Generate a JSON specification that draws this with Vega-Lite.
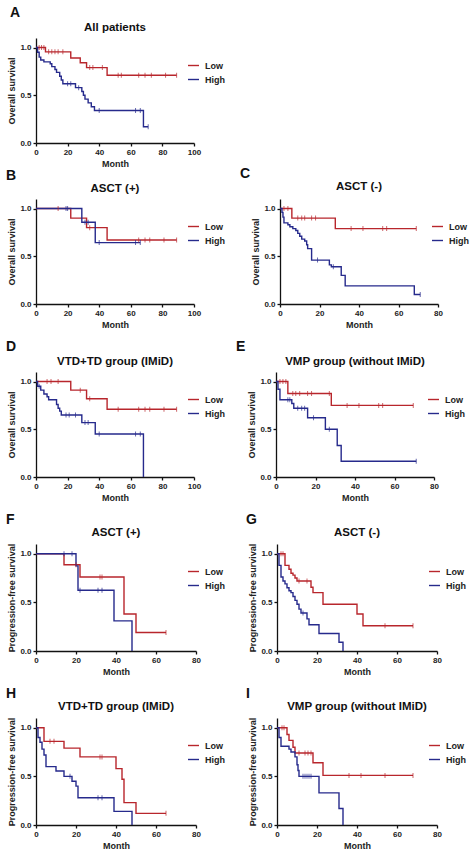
{
"$schema": "https://vega.github.io/schema/vega-lite/v6.json",
"background": "white",
"datasets": {
"curves": [
{"p":"A","g":"Low","t":0,"s":1},{"p":"A","g":"Low","t":6,"s":0.955},{"p":"A","g":"Low","t":22,"s":0.89},{"p":"A","g":"Low","t":28,"s":0.84},{"p":"A","g":"Low","t":32,"s":0.79},{"p":"A","g":"Low","t":45,"s":0.71},{"p":"A","g":"Low","t":89,"s":0.71},
{"p":"A","g":"High","t":0,"s":1},{"p":"A","g":"High","t":1,"s":0.95},{"p":"A","g":"High","t":2,"s":0.9},{"p":"A","g":"High","t":3,"s":0.87},{"p":"A","g":"High","t":5,"s":0.85},{"p":"A","g":"High","t":9,"s":0.83},{"p":"A","g":"High","t":10,"s":0.8},{"p":"A","g":"High","t":12,"s":0.77},{"p":"A","g":"High","t":13,"s":0.74},{"p":"A","g":"High","t":15,"s":0.7},{"p":"A","g":"High","t":16,"s":0.66},{"p":"A","g":"High","t":17,"s":0.62},{"p":"A","g":"High","t":25,"s":0.58},{"p":"A","g":"High","t":29,"s":0.54},{"p":"A","g":"High","t":30,"s":0.5},{"p":"A","g":"High","t":31,"s":0.46},{"p":"A","g":"High","t":33,"s":0.42},{"p":"A","g":"High","t":35,"s":0.38},{"p":"A","g":"High","t":37,"s":0.34},{"p":"A","g":"High","t":68,"s":0.17},{"p":"A","g":"High","t":71,"s":0.17},
{"p":"B","g":"Low","t":0,"s":1},{"p":"B","g":"Low","t":22,"s":0.9},{"p":"B","g":"Low","t":32,"s":0.8},{"p":"B","g":"Low","t":45,"s":0.67},{"p":"B","g":"Low","t":89,"s":0.67},
{"p":"B","g":"High","t":0,"s":1},{"p":"B","g":"High","t":29,"s":0.857},{"p":"B","g":"High","t":37.5,"s":0.643},{"p":"B","g":"High","t":66,"s":0.643},
{"p":"C","g":"Low","t":0,"s":1},{"p":"C","g":"Low","t":6,"s":0.9},{"p":"C","g":"Low","t":28,"s":0.79},{"p":"C","g":"Low","t":69,"s":0.79},
{"p":"C","g":"High","t":0,"s":1},{"p":"C","g":"High","t":1,"s":0.96},{"p":"C","g":"High","t":1.5,"s":0.91},{"p":"C","g":"High","t":2,"s":0.85},{"p":"C","g":"High","t":4,"s":0.83},{"p":"C","g":"High","t":5,"s":0.81},{"p":"C","g":"High","t":6.5,"s":0.79},{"p":"C","g":"High","t":8,"s":0.77},{"p":"C","g":"High","t":9,"s":0.74},{"p":"C","g":"High","t":10,"s":0.71},{"p":"C","g":"High","t":11,"s":0.68},{"p":"C","g":"High","t":12.5,"s":0.66},{"p":"C","g":"High","t":13.5,"s":0.62},{"p":"C","g":"High","t":14,"s":0.58},{"p":"C","g":"High","t":16,"s":0.46},{"p":"C","g":"High","t":25,"s":0.41},{"p":"C","g":"High","t":26,"s":0.39},{"p":"C","g":"High","t":31,"s":0.3},{"p":"C","g":"High","t":33,"s":0.19},{"p":"C","g":"High","t":68,"s":0.1},{"p":"C","g":"High","t":71,"s":0.1},
{"p":"D","g":"Low","t":0,"s":1},{"p":"D","g":"Low","t":22,"s":0.91},{"p":"D","g":"Low","t":32,"s":0.82},{"p":"D","g":"Low","t":45,"s":0.71},{"p":"D","g":"Low","t":89,"s":0.71},
{"p":"D","g":"High","t":0,"s":1},{"p":"D","g":"High","t":1,"s":0.95},{"p":"D","g":"High","t":3,"s":0.91},{"p":"D","g":"High","t":5,"s":0.87},{"p":"D","g":"High","t":7,"s":0.84},{"p":"D","g":"High","t":8,"s":0.81},{"p":"D","g":"High","t":13,"s":0.76},{"p":"D","g":"High","t":14,"s":0.72},{"p":"D","g":"High","t":15,"s":0.69},{"p":"D","g":"High","t":16,"s":0.65},{"p":"D","g":"High","t":29,"s":0.57},{"p":"D","g":"High","t":37.5,"s":0.45},{"p":"D","g":"High","t":68,"s":0},
{"p":"E","g":"Low","t":0,"s":1},{"p":"E","g":"Low","t":6,"s":0.875},{"p":"E","g":"Low","t":28,"s":0.75},{"p":"E","g":"Low","t":69.5,"s":0.75},
{"p":"E","g":"High","t":0,"s":1},{"p":"E","g":"High","t":1,"s":0.92},{"p":"E","g":"High","t":2,"s":0.81},{"p":"E","g":"High","t":8,"s":0.77},{"p":"E","g":"High","t":9,"s":0.72},{"p":"E","g":"High","t":16,"s":0.62},{"p":"E","g":"High","t":25,"s":0.5},{"p":"E","g":"High","t":31,"s":0.33},{"p":"E","g":"High","t":33,"s":0.165},{"p":"E","g":"High","t":71,"s":0.165},
{"p":"F","g":"Low","t":0,"s":1},{"p":"F","g":"Low","t":14,"s":0.886},{"p":"F","g":"Low","t":22,"s":0.76},{"p":"F","g":"Low","t":44,"s":0.38},{"p":"F","g":"Low","t":50,"s":0.19},{"p":"F","g":"Low","t":65,"s":0.19},
{"p":"F","g":"High","t":0,"s":1},{"p":"F","g":"High","t":20,"s":0.875},{"p":"F","g":"High","t":21,"s":0.625},{"p":"F","g":"High","t":39,"s":0.31},{"p":"F","g":"High","t":48,"s":0},
{"p":"G","g":"Low","t":0,"s":1},{"p":"G","g":"Low","t":4,"s":0.88},{"p":"G","g":"Low","t":6,"s":0.84},{"p":"G","g":"Low","t":7,"s":0.8},{"p":"G","g":"Low","t":8,"s":0.78},{"p":"G","g":"Low","t":9,"s":0.75},{"p":"G","g":"Low","t":10,"s":0.72},{"p":"G","g":"Low","t":17,"s":0.655},{"p":"G","g":"Low","t":18,"s":0.6},{"p":"G","g":"Low","t":23,"s":0.48},{"p":"G","g":"Low","t":40,"s":0.38},{"p":"G","g":"Low","t":43,"s":0.26},{"p":"G","g":"Low","t":68,"s":0.26},
{"p":"G","g":"High","t":0,"s":1},{"p":"G","g":"High","t":1,"s":0.88},{"p":"G","g":"High","t":2,"s":0.76},{"p":"G","g":"High","t":3,"s":0.72},{"p":"G","g":"High","t":4,"s":0.69},{"p":"G","g":"High","t":5,"s":0.65},{"p":"G","g":"High","t":6,"s":0.62},{"p":"G","g":"High","t":7,"s":0.6},{"p":"G","g":"High","t":8,"s":0.56},{"p":"G","g":"High","t":9,"s":0.52},{"p":"G","g":"High","t":10,"s":0.48},{"p":"G","g":"High","t":11,"s":0.43},{"p":"G","g":"High","t":12,"s":0.39},{"p":"G","g":"High","t":15,"s":0.33},{"p":"G","g":"High","t":16,"s":0.27},{"p":"G","g":"High","t":21,"s":0.18},{"p":"G","g":"High","t":31,"s":0.09},{"p":"G","g":"High","t":33,"s":0},
{"p":"H","g":"Low","t":0,"s":1},{"p":"H","g":"Low","t":4,"s":0.86},{"p":"H","g":"Low","t":14,"s":0.79},{"p":"H","g":"Low","t":22,"s":0.7},{"p":"H","g":"Low","t":40,"s":0.58},{"p":"H","g":"Low","t":43,"s":0.47},{"p":"H","g":"Low","t":44,"s":0.23},{"p":"H","g":"Low","t":50,"s":0.12},{"p":"H","g":"Low","t":65,"s":0.12},
{"p":"H","g":"High","t":0,"s":1},{"p":"H","g":"High","t":1,"s":0.9},{"p":"H","g":"High","t":2,"s":0.85},{"p":"H","g":"High","t":3,"s":0.78},{"p":"H","g":"High","t":4,"s":0.72},{"p":"H","g":"High","t":5,"s":0.6},{"p":"H","g":"High","t":10,"s":0.555},{"p":"H","g":"High","t":14,"s":0.5},{"p":"H","g":"High","t":18,"s":0.45},{"p":"H","g":"High","t":20,"s":0.4},{"p":"H","g":"High","t":21,"s":0.28},{"p":"H","g":"High","t":39,"s":0.14},{"p":"H","g":"High","t":48,"s":0},
{"p":"I","g":"Low","t":0,"s":1},{"p":"I","g":"Low","t":5,"s":0.93},{"p":"I","g":"Low","t":6,"s":0.87},{"p":"I","g":"Low","t":8,"s":0.8},{"p":"I","g":"Low","t":9,"s":0.74},{"p":"I","g":"Low","t":18,"s":0.64},{"p":"I","g":"Low","t":23,"s":0.51},{"p":"I","g":"Low","t":68,"s":0.51},
{"p":"I","g":"High","t":0,"s":1},{"p":"I","g":"High","t":1,"s":0.9},{"p":"I","g":"High","t":2,"s":0.81},{"p":"I","g":"High","t":6,"s":0.78},{"p":"I","g":"High","t":7,"s":0.75},{"p":"I","g":"High","t":9,"s":0.7},{"p":"I","g":"High","t":10,"s":0.62},{"p":"I","g":"High","t":10.5,"s":0.56},{"p":"I","g":"High","t":11,"s":0.5},{"p":"I","g":"High","t":21,"s":0.33},{"p":"I","g":"High","t":31,"s":0.17},{"p":"I","g":"High","t":33,"s":0}
],
"censor": [
{"p":"A","g":"Low","t":2,"s":1},{"p":"A","g":"Low","t":3.5,"s":1},{"p":"A","g":"Low","t":5,"s":1},{"p":"A","g":"Low","t":8,"s":0.955},{"p":"A","g":"Low","t":10,"s":0.955},{"p":"A","g":"Low","t":12,"s":0.955},{"p":"A","g":"Low","t":14,"s":0.955},{"p":"A","g":"Low","t":17,"s":0.955},{"p":"A","g":"Low","t":34,"s":0.79},{"p":"A","g":"Low","t":36,"s":0.79},{"p":"A","g":"Low","t":42,"s":0.79},{"p":"A","g":"Low","t":52,"s":0.71},{"p":"A","g":"Low","t":54,"s":0.71},{"p":"A","g":"Low","t":65,"s":0.71},{"p":"A","g":"Low","t":69,"s":0.71},{"p":"A","g":"Low","t":73,"s":0.71},{"p":"A","g":"Low","t":82,"s":0.71},{"p":"A","g":"Low","t":89,"s":0.71},
{"p":"A","g":"High","t":20,"s":0.62},{"p":"A","g":"High","t":22,"s":0.62},{"p":"A","g":"High","t":27,"s":0.58},{"p":"A","g":"High","t":40,"s":0.34},{"p":"A","g":"High","t":63,"s":0.34},{"p":"A","g":"High","t":66,"s":0.34},{"p":"A","g":"High","t":71,"s":0.17},
{"p":"B","g":"Low","t":14,"s":1},{"p":"B","g":"Low","t":34,"s":0.8},{"p":"B","g":"Low","t":65,"s":0.67},{"p":"B","g":"Low","t":69,"s":0.67},{"p":"B","g":"Low","t":72,"s":0.67},{"p":"B","g":"Low","t":81,"s":0.67},{"p":"B","g":"Low","t":89,"s":0.67},
{"p":"B","g":"High","t":19,"s":1},{"p":"B","g":"High","t":20,"s":1},{"p":"B","g":"High","t":31,"s":0.857},{"p":"B","g":"High","t":33,"s":0.857},{"p":"B","g":"High","t":40,"s":0.643},{"p":"B","g":"High","t":63,"s":0.643},{"p":"B","g":"High","t":66,"s":0.643},
{"p":"C","g":"Low","t":2,"s":1},{"p":"C","g":"Low","t":4,"s":1},{"p":"C","g":"Low","t":9,"s":0.9},{"p":"C","g":"Low","t":11,"s":0.9},{"p":"C","g":"Low","t":12.5,"s":0.9},{"p":"C","g":"Low","t":16,"s":0.9},{"p":"C","g":"Low","t":18,"s":0.9},{"p":"C","g":"Low","t":36,"s":0.79},{"p":"C","g":"Low","t":42,"s":0.79},{"p":"C","g":"Low","t":52,"s":0.79},{"p":"C","g":"Low","t":54,"s":0.79},{"p":"C","g":"Low","t":69,"s":0.79},
{"p":"C","g":"High","t":19,"s":0.46},{"p":"C","g":"High","t":27,"s":0.39},{"p":"C","g":"High","t":71,"s":0.1},
{"p":"D","g":"Low","t":7,"s":1},{"p":"D","g":"Low","t":9.5,"s":1},{"p":"D","g":"Low","t":14,"s":1},{"p":"D","g":"Low","t":28,"s":0.91},{"p":"D","g":"Low","t":34,"s":0.82},{"p":"D","g":"Low","t":52,"s":0.71},{"p":"D","g":"Low","t":65,"s":0.71},{"p":"D","g":"Low","t":69,"s":0.71},{"p":"D","g":"Low","t":72,"s":0.71},{"p":"D","g":"Low","t":81,"s":0.71},{"p":"D","g":"Low","t":89,"s":0.71},
{"p":"D","g":"High","t":2,"s":0.95},{"p":"D","g":"High","t":19,"s":0.65},{"p":"D","g":"High","t":21,"s":0.65},{"p":"D","g":"High","t":25,"s":0.65},{"p":"D","g":"High","t":31,"s":0.57},{"p":"D","g":"High","t":33,"s":0.57},{"p":"D","g":"High","t":40,"s":0.45},{"p":"D","g":"High","t":63,"s":0.45},{"p":"D","g":"High","t":66,"s":0.45},
{"p":"E","g":"Low","t":2,"s":1},{"p":"E","g":"Low","t":3.5,"s":1},{"p":"E","g":"Low","t":5,"s":1},{"p":"E","g":"Low","t":8.5,"s":0.875},{"p":"E","g":"Low","t":10,"s":0.875},{"p":"E","g":"Low","t":12,"s":0.875},{"p":"E","g":"Low","t":16,"s":0.875},{"p":"E","g":"Low","t":18,"s":0.875},{"p":"E","g":"Low","t":27,"s":0.875},{"p":"E","g":"Low","t":36,"s":0.75},{"p":"E","g":"Low","t":42,"s":0.75},{"p":"E","g":"Low","t":52,"s":0.75},{"p":"E","g":"Low","t":54,"s":0.75},{"p":"E","g":"Low","t":69.5,"s":0.75},
{"p":"E","g":"High","t":6,"s":0.81},{"p":"E","g":"High","t":7,"s":0.81},{"p":"E","g":"High","t":11,"s":0.72},{"p":"E","g":"High","t":13,"s":0.72},{"p":"E","g":"High","t":14.5,"s":0.72},{"p":"E","g":"High","t":19,"s":0.62},{"p":"E","g":"High","t":27,"s":0.5},{"p":"E","g":"High","t":71,"s":0.165},
{"p":"F","g":"Low","t":20,"s":0.886},{"p":"F","g":"Low","t":32,"s":0.76},{"p":"F","g":"Low","t":33,"s":0.76},{"p":"F","g":"Low","t":65,"s":0.19},
{"p":"F","g":"High","t":14,"s":1},{"p":"F","g":"High","t":18,"s":1},{"p":"F","g":"High","t":22,"s":0.625},{"p":"F","g":"High","t":31,"s":0.625},{"p":"F","g":"High","t":33,"s":0.625},
{"p":"G","g":"Low","t":2,"s":1},{"p":"G","g":"Low","t":3,"s":1},{"p":"G","g":"Low","t":11,"s":0.72},{"p":"G","g":"Low","t":15,"s":0.72},{"p":"G","g":"Low","t":54,"s":0.26},{"p":"G","g":"Low","t":68,"s":0.26},
{"p":"G","g":"High","t":13,"s":0.39},
{"p":"H","g":"Low","t":7,"s":0.86},{"p":"H","g":"Low","t":9,"s":0.86},{"p":"H","g":"Low","t":32,"s":0.7},{"p":"H","g":"Low","t":33,"s":0.7},{"p":"H","g":"Low","t":65,"s":0.12},
{"p":"H","g":"High","t":17,"s":0.5},{"p":"H","g":"High","t":31,"s":0.28},{"p":"H","g":"High","t":33,"s":0.28},
{"p":"I","g":"Low","t":2.5,"s":1},{"p":"I","g":"Low","t":3.5,"s":1},{"p":"I","g":"Low","t":11,"s":0.74},{"p":"I","g":"Low","t":14,"s":0.74},{"p":"I","g":"Low","t":15.5,"s":0.74},{"p":"I","g":"Low","t":17,"s":0.74},{"p":"I","g":"Low","t":36,"s":0.51},{"p":"I","g":"Low","t":42,"s":0.51},{"p":"I","g":"Low","t":54,"s":0.51},{"p":"I","g":"Low","t":68,"s":0.51},
{"p":"I","g":"High","t":13,"s":0.5},{"p":"I","g":"High","t":14,"s":0.5},{"p":"I","g":"High","t":15,"s":0.5},{"p":"I","g":"High","t":16,"s":0.5},{"p":"I","g":"High","t":17,"s":0.5}
],
"pv": [
{"p":"A","txt":"<0.001"},{"p":"B","txt":"= 0.881"},{"p":"C","txt":"= 0.001"},{"p":"D","txt":"= 0.023"},{"p":"E","txt":"= 0.020"},{"p":"F","txt":"= 0.289"},{"p":"G","txt":"= 0.002"},{"p":"H","txt":"= 0.012"},{"p":"I","txt":"= 0.047"}
]
},
"resolve": {"scale": {"color": "independent"}, "legend": {"color": "independent"}},
"vconcat": [
{"title": {"text": "A", "anchor": "start", "frame": "bounds", "fontSize": 14, "offset": 2, "dx": 2}, "vconcat": [
{"title": {"text": "All patients", "offset": 5}, "width": 158, "height": 105,
"encoding": {"x": {"field": "t", "type": "quantitative", "scale": {"domain": [0, 100], "nice": false}, "axis": {"values": [0, 20, 40, 60, 80, 100], "labelOverlap": false, "labelFlush": false, "title": "Month"}}, "y": {"field": "s", "type": "quantitative", "scale": {"domain": [0, 1.1], "nice": false}, "axis": {"values": [0, 0.5, 1], "labelOverlap": false, "format": ".1f", "title": "Overall survival"}}, "color": {"field": "g", "type": "nominal", "scale": {"domain": ["Low", "High"], "range": ["#b8262c", "#262a8c"]}, "legend": {"title": null}}},
"layer": [
{"data": {"name": "curves"}, "transform": [{"filter": "datum.p == 'A'"}], "mark": {"type": "line", "interpolate": "step-after"}},
{"data": {"name": "censor"}, "transform": [{"filter": "datum.p == 'A'"}], "mark": {"type": "tick", "orient": "vertical"}},
{"data": {"name": "pv"}, "transform": [{"filter": "datum.p == 'A'"}], "mark": {"type": "text", "align": "left", "fontStyle": "italic"}, "encoding": {"x": {"datum": 3.5, "type": "quantitative", "axis": {"values": [0, 20, 40, 60, 80, 100], "labelOverlap": false, "labelFlush": false, "title": "Month"}}, "y": {"datum": 0.12, "type": "quantitative", "axis": {"values": [0, 0.5, 1], "labelOverlap": false, "format": ".1f", "title": "Overall survival"}}, "color": {"value": "#222"}, "text": {"value": "P"}}},
{"data": {"name": "pv"}, "transform": [{"filter": "datum.p == 'A'"}], "mark": {"type": "text", "align": "left", "dx": 9}, "encoding": {"x": {"datum": 3.5, "type": "quantitative", "axis": {"values": [0, 20, 40, 60, 80, 100], "labelOverlap": false, "labelFlush": false, "title": "Month"}}, "y": {"datum": 0.12, "type": "quantitative", "axis": {"values": [0, 0.5, 1], "labelOverlap": false, "format": ".1f", "title": "Overall survival"}}, "color": {"value": "#222"}, "text": {"field": "txt"}}}
]}]},
{"spacing": 10, "resolve": {"scale": {"color": "independent"}, "legend": {"color": "independent"}}, "vconcat": [
{"spacing": 14, "resolve": {"scale": {"color": "independent"}, "legend": {"color": "independent"}}, "hconcat": [
{"title": {"text": "B", "anchor": "start", "frame": "bounds", "fontSize": 14, "offset": 0, "dx": -2}, "vconcat": [
{"title": {"text": "ASCT (+)", "offset": 5}, "width": 158, "height": 105,
"encoding": {"x": {"field": "t", "type": "quantitative", "scale": {"domain": [0, 100], "nice": false}, "axis": {"values": [0, 20, 40, 60, 80, 100], "labelOverlap": false, "labelFlush": false, "title": "Month"}}, "y": {"field": "s", "type": "quantitative", "scale": {"domain": [0, 1.1], "nice": false}, "axis": {"values": [0, 0.5, 1], "labelOverlap": false, "format": ".1f", "title": "Overall survival"}}, "color": {"field": "g", "type": "nominal", "scale": {"domain": ["Low", "High"], "range": ["#b8262c", "#262a8c"]}, "legend": {"title": null}}},
"layer": [
{"data": {"name": "curves"}, "transform": [{"filter": "datum.p == 'B'"}], "mark": {"type": "line", "interpolate": "step-after"}},
{"data": {"name": "censor"}, "transform": [{"filter": "datum.p == 'B'"}], "mark": {"type": "tick", "orient": "vertical"}},
{"data": {"name": "pv"}, "transform": [{"filter": "datum.p == 'B'"}], "mark": {"type": "text", "align": "left", "fontStyle": "italic"}, "encoding": {"x": {"datum": 3.5, "type": "quantitative", "axis": {"values": [0, 20, 40, 60, 80, 100], "labelOverlap": false, "labelFlush": false, "title": "Month"}}, "y": {"datum": 0.12, "type": "quantitative", "axis": {"values": [0, 0.5, 1], "labelOverlap": false, "format": ".1f", "title": "Overall survival"}}, "color": {"value": "#222"}, "text": {"value": "P"}}},
{"data": {"name": "pv"}, "transform": [{"filter": "datum.p == 'B'"}], "mark": {"type": "text", "align": "left", "dx": 9}, "encoding": {"x": {"datum": 3.5, "type": "quantitative", "axis": {"values": [0, 20, 40, 60, 80, 100], "labelOverlap": false, "labelFlush": false, "title": "Month"}}, "y": {"datum": 0.12, "type": "quantitative", "axis": {"values": [0, 0.5, 1], "labelOverlap": false, "format": ".1f", "title": "Overall survival"}}, "color": {"value": "#222"}, "text": {"field": "txt"}}}
]}]},
{"title": {"text": "C", "anchor": "start", "frame": "bounds", "fontSize": 14, "offset": 0, "dx": -12}, "vconcat": [
{"title": {"text": "ASCT (-)", "offset": 7}, "width": 158, "height": 105,
"encoding": {"x": {"field": "t", "type": "quantitative", "scale": {"domain": [0, 80], "nice": false}, "axis": {"values": [0, 20, 40, 60, 80], "labelOverlap": false, "labelFlush": false, "title": "Month"}}, "y": {"field": "s", "type": "quantitative", "scale": {"domain": [0, 1.1], "nice": false}, "axis": {"values": [0, 0.5, 1], "labelOverlap": false, "format": ".1f", "title": "Overall survival"}}, "color": {"field": "g", "type": "nominal", "scale": {"domain": ["Low", "High"], "range": ["#b8262c", "#262a8c"]}, "legend": {"title": null}}},
"layer": [
{"data": {"name": "curves"}, "transform": [{"filter": "datum.p == 'C'"}], "mark": {"type": "line", "interpolate": "step-after"}},
{"data": {"name": "censor"}, "transform": [{"filter": "datum.p == 'C'"}], "mark": {"type": "tick", "orient": "vertical"}},
{"data": {"name": "pv"}, "transform": [{"filter": "datum.p == 'C'"}], "mark": {"type": "text", "align": "left", "fontStyle": "italic"}, "encoding": {"x": {"datum": 2.5, "type": "quantitative", "axis": {"values": [0, 20, 40, 60, 80], "labelOverlap": false, "labelFlush": false, "title": "Month"}}, "y": {"datum": 0.12, "type": "quantitative", "axis": {"values": [0, 0.5, 1], "labelOverlap": false, "format": ".1f", "title": "Overall survival"}}, "color": {"value": "#222"}, "text": {"value": "P"}}},
{"data": {"name": "pv"}, "transform": [{"filter": "datum.p == 'C'"}], "mark": {"type": "text", "align": "left", "dx": 9}, "encoding": {"x": {"datum": 2.5, "type": "quantitative", "axis": {"values": [0, 20, 40, 60, 80], "labelOverlap": false, "labelFlush": false, "title": "Month"}}, "y": {"datum": 0.12, "type": "quantitative", "axis": {"values": [0, 0.5, 1], "labelOverlap": false, "format": ".1f", "title": "Overall survival"}}, "color": {"value": "#222"}, "text": {"field": "txt"}}}
]}]}
]},
{"spacing": 10, "resolve": {"scale": {"color": "independent"}, "legend": {"color": "independent"}}, "hconcat": [
{"title": {"text": "D", "anchor": "start", "frame": "bounds", "fontSize": 14, "offset": 2, "dx": -2}, "vconcat": [
{"title": {"text": "VTD+TD group (IMiD)", "offset": 5}, "width": 158, "height": 105,
"encoding": {"x": {"field": "t", "type": "quantitative", "scale": {"domain": [0, 100], "nice": false}, "axis": {"values": [0, 20, 40, 60, 80, 100], "labelOverlap": false, "labelFlush": false, "title": "Month"}}, "y": {"field": "s", "type": "quantitative", "scale": {"domain": [0, 1.1], "nice": false}, "axis": {"values": [0, 0.5, 1], "labelOverlap": false, "format": ".1f", "title": "Overall survival"}}, "color": {"field": "g", "type": "nominal", "scale": {"domain": ["Low", "High"], "range": ["#b8262c", "#262a8c"]}, "legend": {"title": null}}},
"layer": [
{"data": {"name": "curves"}, "transform": [{"filter": "datum.p == 'D'"}], "mark": {"type": "line", "interpolate": "step-after"}},
{"data": {"name": "censor"}, "transform": [{"filter": "datum.p == 'D'"}], "mark": {"type": "tick", "orient": "vertical"}},
{"data": {"name": "pv"}, "transform": [{"filter": "datum.p == 'D'"}], "mark": {"type": "text", "align": "left", "fontStyle": "italic"}, "encoding": {"x": {"datum": 3.5, "type": "quantitative", "axis": {"values": [0, 20, 40, 60, 80, 100], "labelOverlap": false, "labelFlush": false, "title": "Month"}}, "y": {"datum": 0.12, "type": "quantitative", "axis": {"values": [0, 0.5, 1], "labelOverlap": false, "format": ".1f", "title": "Overall survival"}}, "color": {"value": "#222"}, "text": {"value": "P"}}},
{"data": {"name": "pv"}, "transform": [{"filter": "datum.p == 'D'"}], "mark": {"type": "text", "align": "left", "dx": 9}, "encoding": {"x": {"datum": 3.5, "type": "quantitative", "axis": {"values": [0, 20, 40, 60, 80, 100], "labelOverlap": false, "labelFlush": false, "title": "Month"}}, "y": {"datum": 0.12, "type": "quantitative", "axis": {"values": [0, 0.5, 1], "labelOverlap": false, "format": ".1f", "title": "Overall survival"}}, "color": {"value": "#222"}, "text": {"field": "txt"}}}
]}]},
{"title": {"text": "E", "anchor": "start", "frame": "bounds", "fontSize": 14, "offset": 2, "dx": -12}, "vconcat": [
{"title": {"text": "VMP group (without IMiD)", "offset": 5}, "width": 158, "height": 105,
"encoding": {"x": {"field": "t", "type": "quantitative", "scale": {"domain": [0, 80], "nice": false}, "axis": {"values": [0, 20, 40, 60, 80], "labelOverlap": false, "labelFlush": false, "title": "Month"}}, "y": {"field": "s", "type": "quantitative", "scale": {"domain": [0, 1.1], "nice": false}, "axis": {"values": [0, 0.5, 1], "labelOverlap": false, "format": ".1f", "title": "Overall survival"}}, "color": {"field": "g", "type": "nominal", "scale": {"domain": ["Low", "High"], "range": ["#b8262c", "#262a8c"]}, "legend": {"title": null}}},
"layer": [
{"data": {"name": "curves"}, "transform": [{"filter": "datum.p == 'E'"}], "mark": {"type": "line", "interpolate": "step-after"}},
{"data": {"name": "censor"}, "transform": [{"filter": "datum.p == 'E'"}], "mark": {"type": "tick", "orient": "vertical"}},
{"data": {"name": "pv"}, "transform": [{"filter": "datum.p == 'E'"}], "mark": {"type": "text", "align": "left", "fontStyle": "italic"}, "encoding": {"x": {"datum": 2.5, "type": "quantitative", "axis": {"values": [0, 20, 40, 60, 80], "labelOverlap": false, "labelFlush": false, "title": "Month"}}, "y": {"datum": 0.12, "type": "quantitative", "axis": {"values": [0, 0.5, 1], "labelOverlap": false, "format": ".1f", "title": "Overall survival"}}, "color": {"value": "#222"}, "text": {"value": "P"}}},
{"data": {"name": "pv"}, "transform": [{"filter": "datum.p == 'E'"}], "mark": {"type": "text", "align": "left", "dx": 9}, "encoding": {"x": {"datum": 2.5, "type": "quantitative", "axis": {"values": [0, 20, 40, 60, 80], "labelOverlap": false, "labelFlush": false, "title": "Month"}}, "y": {"datum": 0.12, "type": "quantitative", "axis": {"values": [0, 0.5, 1], "labelOverlap": false, "format": ".1f", "title": "Overall survival"}}, "color": {"value": "#222"}, "text": {"field": "txt"}}}
]}]}
]},
{"spacing": 20, "resolve": {"scale": {"color": "independent"}, "legend": {"color": "independent"}}, "hconcat": [
{"title": {"text": "F", "anchor": "start", "frame": "bounds", "fontSize": 14, "offset": 0, "dx": -2}, "vconcat": [
{"title": {"text": "ASCT (+)", "offset": 5}, "width": 160, "height": 107,
"encoding": {"x": {"field": "t", "type": "quantitative", "scale": {"domain": [0, 80], "nice": false}, "axis": {"values": [0, 20, 40, 60, 80], "labelOverlap": false, "labelFlush": false, "title": "Month"}}, "y": {"field": "s", "type": "quantitative", "scale": {"domain": [0, 1.1], "nice": false}, "axis": {"values": [0, 0.5, 1], "labelOverlap": false, "format": ".1f", "title": "Progression-free survival"}}, "color": {"field": "g", "type": "nominal", "scale": {"domain": ["Low", "High"], "range": ["#b8262c", "#262a8c"]}, "legend": {"title": null}}},
"layer": [
{"data": {"name": "curves"}, "transform": [{"filter": "datum.p == 'F'"}], "mark": {"type": "line", "interpolate": "step-after"}},
{"data": {"name": "censor"}, "transform": [{"filter": "datum.p == 'F'"}], "mark": {"type": "tick", "orient": "vertical"}},
{"data": {"name": "pv"}, "transform": [{"filter": "datum.p == 'F'"}], "mark": {"type": "text", "align": "left", "fontStyle": "italic"}, "encoding": {"x": {"datum": 2, "type": "quantitative", "axis": {"values": [0, 20, 40, 60, 80], "labelOverlap": false, "labelFlush": false, "title": "Month"}}, "y": {"datum": 0.13, "type": "quantitative", "axis": {"values": [0, 0.5, 1], "labelOverlap": false, "format": ".1f", "title": "Progression-free survival"}}, "color": {"value": "#222"}, "text": {"value": "P"}}},
{"data": {"name": "pv"}, "transform": [{"filter": "datum.p == 'F'"}], "mark": {"type": "text", "align": "left", "dx": 9}, "encoding": {"x": {"datum": 2, "type": "quantitative", "axis": {"values": [0, 20, 40, 60, 80], "labelOverlap": false, "labelFlush": false, "title": "Month"}}, "y": {"datum": 0.13, "type": "quantitative", "axis": {"values": [0, 0.5, 1], "labelOverlap": false, "format": ".1f", "title": "Progression-free survival"}}, "color": {"value": "#222"}, "text": {"field": "txt"}}}
]}]},
{"title": {"text": "G", "anchor": "start", "frame": "bounds", "fontSize": 14, "offset": 0, "dx": -3}, "vconcat": [
{"title": {"text": "ASCT (-)", "offset": 5}, "width": 160, "height": 107,
"encoding": {"x": {"field": "t", "type": "quantitative", "scale": {"domain": [0, 80], "nice": false}, "axis": {"values": [0, 20, 40, 60, 80], "labelOverlap": false, "labelFlush": false, "title": "Month"}}, "y": {"field": "s", "type": "quantitative", "scale": {"domain": [0, 1.1], "nice": false}, "axis": {"values": [0, 0.5, 1], "labelOverlap": false, "format": ".1f", "title": "Progression-free survival"}}, "color": {"field": "g", "type": "nominal", "scale": {"domain": ["Low", "High"], "range": ["#b8262c", "#262a8c"]}, "legend": {"title": null}}},
"layer": [
{"data": {"name": "curves"}, "transform": [{"filter": "datum.p == 'G'"}], "mark": {"type": "line", "interpolate": "step-after"}},
{"data": {"name": "censor"}, "transform": [{"filter": "datum.p == 'G'"}], "mark": {"type": "tick", "orient": "vertical"}},
{"data": {"name": "pv"}, "transform": [{"filter": "datum.p == 'G'"}], "mark": {"type": "text", "align": "left", "fontStyle": "italic"}, "encoding": {"x": {"datum": 6, "type": "quantitative", "axis": {"values": [0, 20, 40, 60, 80], "labelOverlap": false, "labelFlush": false, "title": "Month"}}, "y": {"datum": 0.13, "type": "quantitative", "axis": {"values": [0, 0.5, 1], "labelOverlap": false, "format": ".1f", "title": "Progression-free survival"}}, "color": {"value": "#222"}, "text": {"value": "P"}}},
{"data": {"name": "pv"}, "transform": [{"filter": "datum.p == 'G'"}], "mark": {"type": "text", "align": "left", "dx": 9}, "encoding": {"x": {"datum": 6, "type": "quantitative", "axis": {"values": [0, 20, 40, 60, 80], "labelOverlap": false, "labelFlush": false, "title": "Month"}}, "y": {"datum": 0.13, "type": "quantitative", "axis": {"values": [0, 0.5, 1], "labelOverlap": false, "format": ".1f", "title": "Progression-free survival"}}, "color": {"value": "#222"}, "text": {"field": "txt"}}}
]}]}
]},
{"spacing": 20, "resolve": {"scale": {"color": "independent"}, "legend": {"color": "independent"}}, "hconcat": [
{"title": {"text": "H", "anchor": "start", "frame": "bounds", "fontSize": 14, "offset": 0, "dx": -2}, "vconcat": [
{"title": {"text": "VTD+TD group (IMiD)", "offset": 5}, "width": 160, "height": 107,
"encoding": {"x": {"field": "t", "type": "quantitative", "scale": {"domain": [0, 80], "nice": false}, "axis": {"values": [0, 20, 40, 60, 80], "labelOverlap": false, "labelFlush": false, "title": "Month"}}, "y": {"field": "s", "type": "quantitative", "scale": {"domain": [0, 1.1], "nice": false}, "axis": {"values": [0, 0.5, 1], "labelOverlap": false, "format": ".1f", "title": "Progression-free survival"}}, "color": {"field": "g", "type": "nominal", "scale": {"domain": ["Low", "High"], "range": ["#b8262c", "#262a8c"]}, "legend": {"title": null}}},
"layer": [
{"data": {"name": "curves"}, "transform": [{"filter": "datum.p == 'H'"}], "mark": {"type": "line", "interpolate": "step-after"}},
{"data": {"name": "censor"}, "transform": [{"filter": "datum.p == 'H'"}], "mark": {"type": "tick", "orient": "vertical"}},
{"data": {"name": "pv"}, "transform": [{"filter": "datum.p == 'H'"}], "mark": {"type": "text", "align": "left", "fontStyle": "italic"}, "encoding": {"x": {"datum": 2, "type": "quantitative", "axis": {"values": [0, 20, 40, 60, 80], "labelOverlap": false, "labelFlush": false, "title": "Month"}}, "y": {"datum": 0.13, "type": "quantitative", "axis": {"values": [0, 0.5, 1], "labelOverlap": false, "format": ".1f", "title": "Progression-free survival"}}, "color": {"value": "#222"}, "text": {"value": "P"}}},
{"data": {"name": "pv"}, "transform": [{"filter": "datum.p == 'H'"}], "mark": {"type": "text", "align": "left", "dx": 9}, "encoding": {"x": {"datum": 2, "type": "quantitative", "axis": {"values": [0, 20, 40, 60, 80], "labelOverlap": false, "labelFlush": false, "title": "Month"}}, "y": {"datum": 0.13, "type": "quantitative", "axis": {"values": [0, 0.5, 1], "labelOverlap": false, "format": ".1f", "title": "Progression-free survival"}}, "color": {"value": "#222"}, "text": {"field": "txt"}}}
]}]},
{"title": {"text": "I", "anchor": "start", "frame": "bounds", "fontSize": 14, "offset": 0, "dx": -3}, "vconcat": [
{"title": {"text": "VMP group (without IMiD)", "offset": 5}, "width": 160, "height": 107,
"encoding": {"x": {"field": "t", "type": "quantitative", "scale": {"domain": [0, 80], "nice": false}, "axis": {"values": [0, 20, 40, 60, 80], "labelOverlap": false, "labelFlush": false, "title": "Month"}}, "y": {"field": "s", "type": "quantitative", "scale": {"domain": [0, 1.1], "nice": false}, "axis": {"values": [0, 0.5, 1], "labelOverlap": false, "format": ".1f", "title": "Progression-free survival"}}, "color": {"field": "g", "type": "nominal", "scale": {"domain": ["Low", "High"], "range": ["#b8262c", "#262a8c"]}, "legend": {"title": null}}},
"layer": [
{"data": {"name": "curves"}, "transform": [{"filter": "datum.p == 'I'"}], "mark": {"type": "line", "interpolate": "step-after"}},
{"data": {"name": "censor"}, "transform": [{"filter": "datum.p == 'I'"}], "mark": {"type": "tick", "orient": "vertical"}},
{"data": {"name": "pv"}, "transform": [{"filter": "datum.p == 'I'"}], "mark": {"type": "text", "align": "left", "fontStyle": "italic"}, "encoding": {"x": {"datum": 6, "type": "quantitative", "axis": {"values": [0, 20, 40, 60, 80], "labelOverlap": false, "labelFlush": false, "title": "Month"}}, "y": {"datum": 0.13, "type": "quantitative", "axis": {"values": [0, 0.5, 1], "labelOverlap": false, "format": ".1f", "title": "Progression-free survival"}}, "color": {"value": "#222"}, "text": {"value": "P"}}},
{"data": {"name": "pv"}, "transform": [{"filter": "datum.p == 'I'"}], "mark": {"type": "text", "align": "left", "dx": 9}, "encoding": {"x": {"datum": 6, "type": "quantitative", "axis": {"values": [0, 20, 40, 60, 80], "labelOverlap": false, "labelFlush": false, "title": "Month"}}, "y": {"datum": 0.13, "type": "quantitative", "axis": {"values": [0, 0.5, 1], "labelOverlap": false, "format": ".1f", "title": "Progression-free survival"}}, "color": {"value": "#222"}, "text": {"field": "txt"}}}
]}]}
]}
]}
],
"spacing": -2,
"config": {
"font": "Liberation Sans",
"view": {"stroke": null},
"title": {"font": "Liberation Sans", "fontSize": 11.5, "fontWeight": "bold", "color": "#111"},
"axis": {"labelFont": "Liberation Sans", "labelFontSize": 8, "labelFontWeight": "bold", "labelColor": "#222", "labelPadding": 2, "titleFont": "Liberation Sans", "titleFontSize": 9, "titleFontWeight": "bold", "titleColor": "#222", "titlePadding": 3, "domainColor": "#111", "domainWidth": 1.3, "tickColor": "#111", "tickWidth": 1.3, "tickSize": 3, "grid": false},
"legend": {"orient": "none", "legendX": 151, "legendY": 21, "symbolType": "stroke", "symbolSize": 121, "symbolStrokeWidth": 1.6, "labelFont": "Liberation Sans", "labelFontSize": 9, "labelFontWeight": "bold", "labelColor": "#222", "labelOffset": 5, "rowPadding": 2, "padding": 0},
"line": {"strokeWidth": 1.4},
"tick": {"size": 5, "thickness": 1},
"text": {"font": "Liberation Sans", "fontSize": 9, "fontWeight": "bold", "color": "#222", "baseline": "middle"}
}
}
